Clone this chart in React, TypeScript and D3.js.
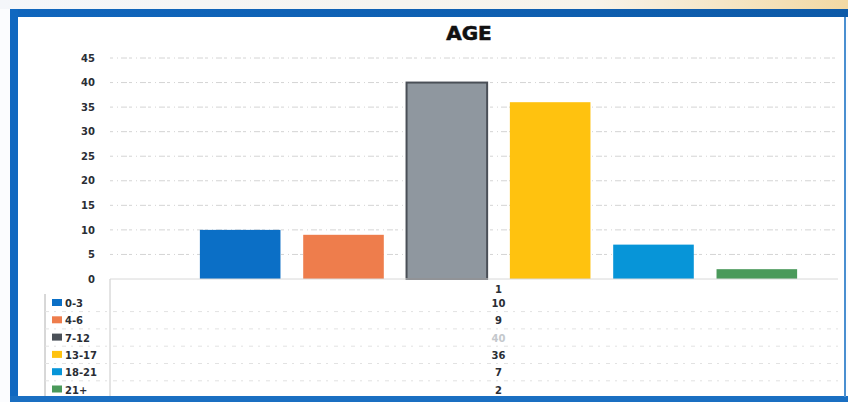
import React, { useEffect, useRef } from "react";
import * as d3 from "d3";

// chart data (one category, six age series)
const categories = ["1"];
const seriesKeys = ["0-3", "4-6", "7-12", "13-17", "18-21", "21+"];
const seriesValues = [10, 9, 40, 36, 7, 2];
const seriesColors = ["#0b6fc6", "#ee7d4c", "#8f979f", "#ffc20f", "#0795d8", "#4b9a5b"];
const yTicks = [0, 5, 10, 15, 20, 25, 30, 35, 40, 45];

const W = 848;
const H = 402;

function App() {
  const svgRef = useRef<SVGSVGElement | null>(null);

  useEffect(() => {
    const svg = d3.select(svgRef.current);
    svg.selectAll("*").remove();

    const left = 110;
    const right = 838;
    const top = 58;
    const bottom = 279;

    // frame: faint top strip, blue window border
    const defs = svg.append("defs");
    const grad = defs.append("linearGradient").attr("id", "topstrip");
    grad.append("stop").attr("offset", "0%").attr("stop-color", "#f4f6fa");
    grad.append("stop").attr("offset", "70%").attr("stop-color", "#f7f3ea");
    grad.append("stop").attr("offset", "100%").attr("stop-color", "#f3d9a3");
    svg.append("rect").attr("x", 0).attr("y", 0).attr("width", W).attr("height", 9).attr("fill", "url(#topstrip)");
    svg.append("rect").attr("x", 0).attr("y", 9).attr("width", W).attr("height", H - 9).attr("fill", "#fbfcfe");

    const barGrad = defs.append("linearGradient").attr("id", "topbar");
    barGrad.append("stop").attr("offset", "0%").attr("stop-color", "#1066bd");
    barGrad.append("stop").attr("offset", "100%").attr("stop-color", "#0d5aa8");
    svg.append("rect").attr("x", 10).attr("y", 9).attr("width", W - 10).attr("height", 8).attr("fill", "url(#topbar)");
    svg.append("rect").attr("x", 10).attr("y", 9).attr("width", 8).attr("height", H - 9).attr("fill", "#1068c0");
    svg.append("rect").attr("x", 10).attr("y", 396).attr("width", W - 10).attr("height", 6).attr("fill", "#1a6fc2");
    svg.append("rect").attr("x", 844).attr("y", 17).attr("width", 2).attr("height", 380).attr("fill", "#4a8fd0");
    svg.append("rect").attr("x", 18).attr("y", 17).attr("width", 826).attr("height", 379).attr("fill", "#ffffff");

    // title
    svg.append("text")
      .attr("x", 469)
      .attr("y", 40)
      .attr("text-anchor", "middle")
      .attr("font-family", "'DejaVu Sans', sans-serif")
      .attr("font-weight", "bold")
      .attr("font-size", 20)
      .attr("fill", "#111")
      .attr("stroke", "#111")
      .attr("stroke-width", 0.6)
      .text("AGE");

    // scales
    const y = d3.scaleLinear().domain([0, 45]).range([bottom, top]);
    const x0 = d3.scaleBand().domain(categories).range([159, right]).paddingOuter(0.0476);
    const x1 = d3.scaleBand()
      .domain(seriesKeys)
      .range([x0(categories[0])!, x0(categories[0])! + x0.bandwidth()])
      .paddingInner(0.22)
      .paddingOuter(0.11);

    // gridlines
    svg.append("g")
      .selectAll("line")
      .data(yTicks.slice(1))
      .join("line")
      .attr("x1", left)
      .attr("x2", right)
      .attr("y1", d => y(d))
      .attr("y2", d => y(d))
      .attr("stroke", "#d4d4d4")
      .attr("stroke-width", 1)
      .attr("stroke-dasharray", "3 4 1 3 6 2");

    // y axis labels
    const yAxis = d3.axisLeft(y).tickValues(yTicks).tickSize(0).tickPadding(0);
    const yg = svg.append("g").attr("transform", `translate(95,0)`).call(yAxis);
    yg.select(".domain").remove();
    yg.selectAll("text")
      .attr("font-family", "'DejaVu Sans', sans-serif")
      .attr("font-weight", "bold")
      .attr("font-size", 10)
      .attr("fill", "#2a2e35");

    // bars
    svg.append("g")
      .selectAll("rect")
      .data(seriesKeys)
      .join("rect")
      .attr("x", k => x1(k)!)
      .attr("width", x1.bandwidth())
      .attr("y", (k, i) => y(seriesValues[i]))
      .attr("height", (k, i) => bottom - y(seriesValues[i]))
      .attr("fill", (k, i) => seriesColors[i])
      .attr("stroke", (k, i) => (k === "7-12" ? "#4a4f57" : "none"))
      .attr("stroke-width", 2);

    // data table
    const rowH = 17.3;
    const rowY = (i: number) => 303 + i * rowH;
    const table = svg.append("g");
    table.append("line").attr("x1", left).attr("x2", left).attr("y1", 279).attr("y2", 396).attr("stroke", "#c8c8c8");
    table.append("line").attr("x1", 45).attr("x2", 45).attr("y1", 294).attr("y2", 396).attr("stroke", "#b0b0b0");
    table.append("line").attr("x1", left).attr("x2", right).attr("y1", bottom).attr("y2", bottom).attr("stroke", "#d8d8d8");
    table.selectAll("line.row")
      .data(d3.range(seriesKeys.length - 1))
      .join("line")
      .attr("class", "row")
      .attr("x1", 45)
      .attr("x2", right)
      .attr("y1", i => rowY(i) + 8.6)
      .attr("y2", i => rowY(i) + 8.6)
      .attr("stroke", "#e2e2e2")
      .attr("stroke-dasharray", "4 5 2 6");

    table.append("text")
      .attr("x", x0(categories[0])! + x0.bandwidth() / 2)
      .attr("y", 293)
      .attr("text-anchor", "middle")
      .attr("font-family", "'DejaVu Sans', sans-serif")
      .attr("font-weight", "bold")
      .attr("font-size", 10)
      .attr("fill", "#2a2e35")
      .text(categories[0]);

    const rows = table.selectAll("g.entry")
      .data(seriesKeys)
      .join("g")
      .attr("class", "entry")
      .attr("transform", (k, i) => `translate(0,${rowY(i)})`);
    rows.append("rect")
      .attr("x", 52)
      .attr("y", -4)
      .attr("width", 10)
      .attr("height", 7)
      .attr("fill", (k, i) => (k === "7-12" ? "#4a5058" : seriesColors[i]));
    rows.append("text")
      .attr("x", 65)
      .attr("y", 4)
      .attr("font-family", "'DejaVu Sans', sans-serif")
      .attr("font-weight", "bold")
      .attr("font-size", 10)
      .attr("fill", "#2a2e35")
      .text(k => k);
    rows.append("text")
      .attr("x", x0(categories[0])! + x0.bandwidth() / 2)
      .attr("y", 4)
      .attr("text-anchor", "middle")
      .attr("font-family", "'DejaVu Sans', sans-serif")
      .attr("font-weight", "bold")
      .attr("font-size", 10)
      .attr("fill", (k, i) => (k === "7-12" ? "#c4c8cc" : "#2a2e35"))
      .text((k, i) => String(seriesValues[i]));
  }, []);

  return (
    <div style={{ position: "absolute", left: 0, top: 0 }}>
      <svg ref={svgRef} width={W} height={H} style={{ display: "block" }} />
    </div>
  );
}

export default App;
